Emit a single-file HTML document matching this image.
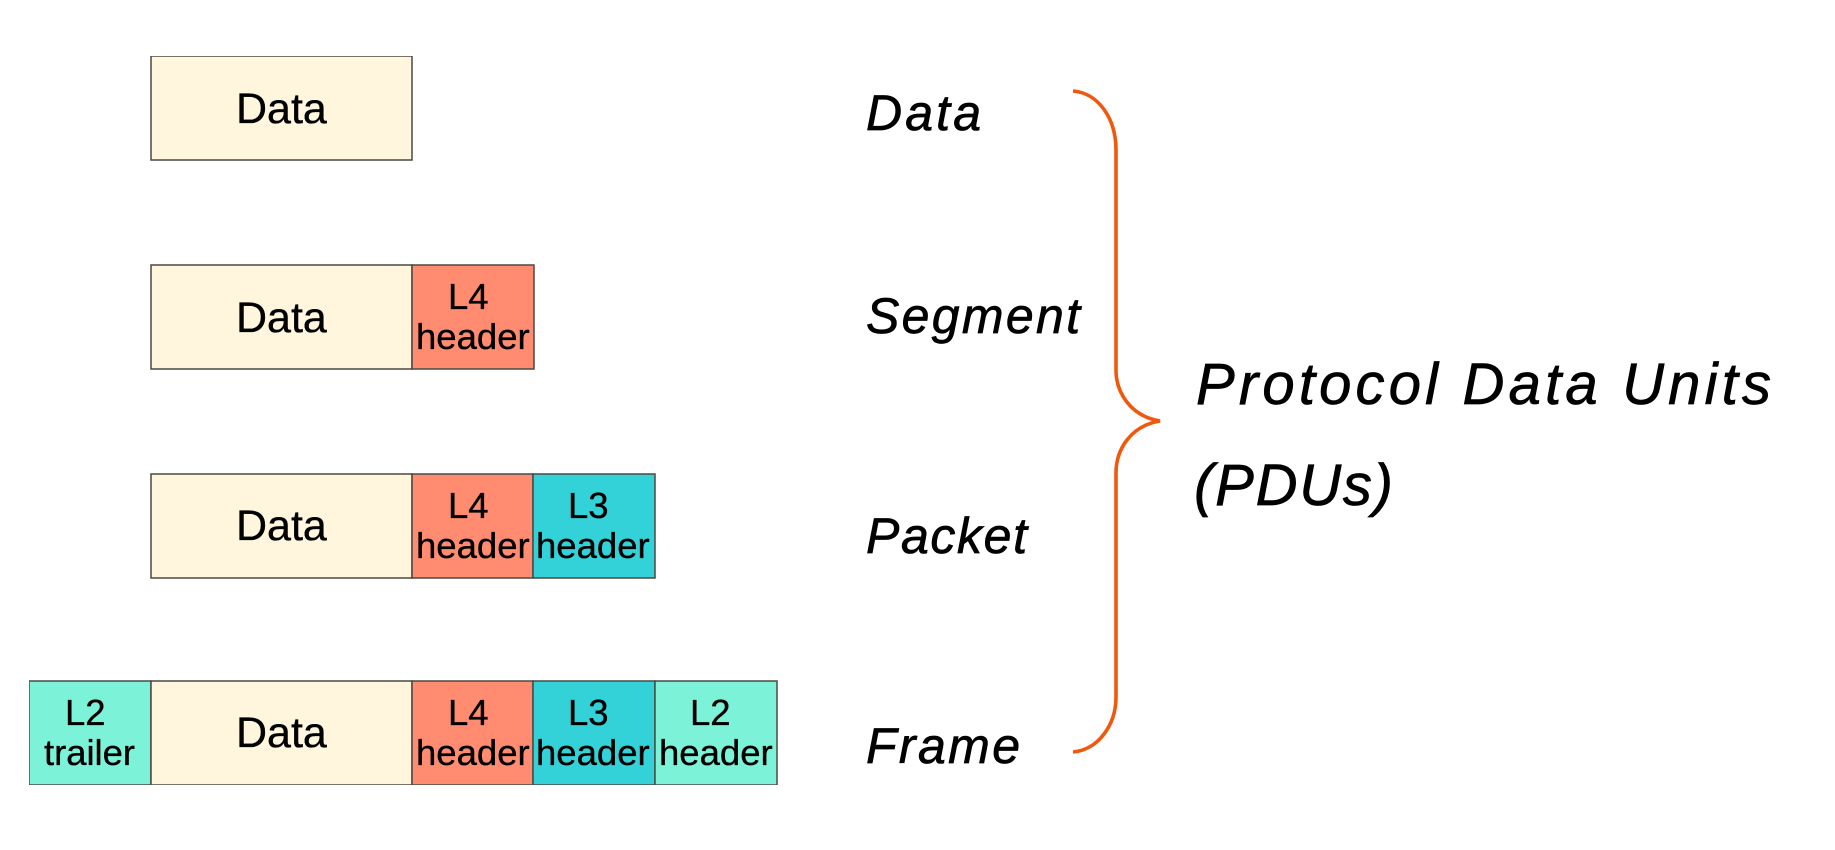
<!DOCTYPE html>
<html lang="en">
<head>
<meta charset="utf-8">
<title>Protocol Data Units</title>
<style>
html,body{margin:0;padding:0;background:#fff;width:1835px;height:850px;overflow:hidden}
svg{display:block}
.b{font-family:"Liberation Sans",sans-serif;fill:#000;stroke:#000;stroke-width:.35px}
.d{font-size:43px}
.s{font-size:36.5px}
.h{font-family:"Liberation Sans Narrow","Liberation Sans",sans-serif;font-style:italic;fill:#000;stroke:#000;stroke-width:.7px}
rect{stroke:#4a4a42;stroke-width:1.5}
</style>
</head>
<body>
<svg width="1835" height="850" viewBox="0 0 1835 850" xmlns="http://www.w3.org/2000/svg">
  <defs><filter id="soft" x="0" y="0" width="100%" height="100%"><feGaussianBlur stdDeviation="0.35"/></filter></defs>
  <g filter="url(#soft)">
  <!-- Row 1 -->
  <rect x="151" y="56" width="261" height="104" fill="#fff6dd"/>
  <text class="b d" x="236" y="123">Data</text>

  <!-- Row 2 -->
  <rect x="151" y="265" width="261" height="104" fill="#fff6dd"/>
  <rect x="412" y="265" width="122" height="104" fill="#ff8b70"/>
  <text class="b d" x="236" y="332">Data</text>
  <text class="b s" x="448" y="309">L4</text>
  <text class="b s" x="416" y="349">header</text>

  <!-- Row 3 -->
  <rect x="151" y="474" width="261" height="104" fill="#fff6dd"/>
  <rect x="412" y="474" width="121" height="104" fill="#ff8b70"/>
  <rect x="533" y="474" width="122" height="104" fill="#33d2d8"/>
  <text class="b d" x="236" y="540">Data</text>
  <text class="b s" x="448" y="518">L4</text>
  <text class="b s" x="416" y="558">header</text>
  <text class="b s" x="568" y="518">L3</text>
  <text class="b s" x="536" y="558">header</text>

  <!-- Row 4 -->
  <rect x="29" y="681" width="122" height="104" fill="#7bf3d9"/>
  <rect x="151" y="681" width="261" height="104" fill="#fff6dd"/>
  <rect x="412" y="681" width="121" height="104" fill="#ff8b70"/>
  <rect x="533" y="681" width="122" height="104" fill="#33d2d8"/>
  <rect x="655" y="681" width="122" height="104" fill="#7bf3d9"/>
  <text class="b s" x="65" y="725">L2</text>
  <text class="b s" x="44" y="765" textLength="91" lengthAdjust="spacingAndGlyphs">trailer</text>
  <text class="b d" x="236" y="747">Data</text>
  <text class="b s" x="448" y="725">L4</text>
  <text class="b s" x="416" y="765">header</text>
  <text class="b s" x="568" y="725">L3</text>
  <text class="b s" x="536" y="765">header</text>
  <text class="b s" x="690" y="725">L2</text>
  <text class="b s" x="659" y="765">header</text>

  <!-- Handwritten labels -->
  <text class="h" x="866" y="130" font-size="50" textLength="115" lengthAdjust="spacing">Data</text>
  <text class="h" x="866" y="333" font-size="50" textLength="214" lengthAdjust="spacing">Segment</text>
  <text class="h" x="866" y="553" font-size="50" textLength="161" lengthAdjust="spacing">Packet</text>
  <text class="h" x="866" y="763" font-size="50" textLength="154" lengthAdjust="spacing">Frame</text>
  <text class="h" x="1196" y="404" font-size="58" textLength="575" lengthAdjust="spacing">Protocol Data Units</text>
  <text class="h" x="1194" y="505" font-size="58" textLength="199" lengthAdjust="spacing">(PDUs)</text>

  <!-- Brace -->
  <path d="M1073 91 C1098 93 1116 118 1116 150 L1116 370 C1116 392 1130 416 1160 421 C1130 426 1116 450 1116 473 L1116 697 C1116 725 1098 750 1073 752" fill="none" stroke="#f0580f" stroke-width="3.6"/>
  </g>
</svg>
</body>
</html>
